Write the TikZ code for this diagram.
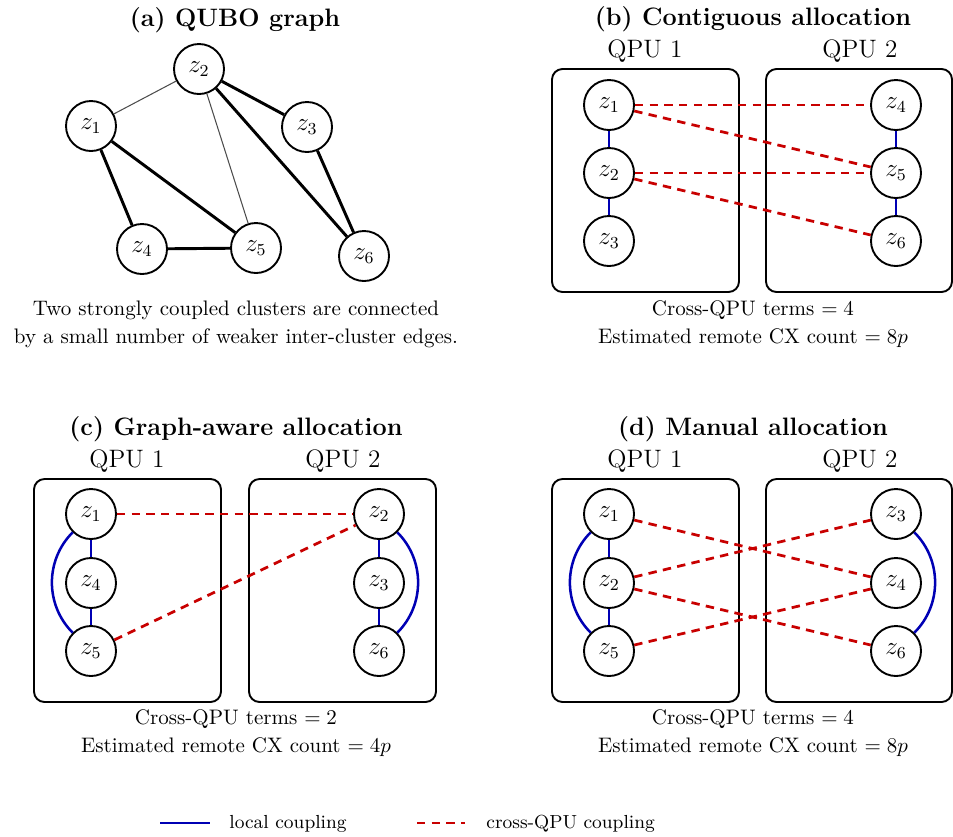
\documentclass[tikz,border=0pt]{standalone}
\usepackage{amsmath}
\usepackage{amssymb}
\usepackage{tikz}
\usetikzlibrary{positioning}
\usepackage{xcolor}
\definecolor{localblue}{RGB}{0,0,180}
\definecolor{crossred}{RGB}{200,0,0}

\begin{document}
\begin{tikzpicture} [x=0.476pt, y=-0.476pt,
	qubit/.style={circle, draw=black, line width=0.9pt, minimum size=23.8pt, inner sep=0pt, font=\large},
	strong/.style={black, line width=1.4pt},
	weak/.style={black!70, line width=0.5pt},
	local/.style={localblue, line width=1.2pt},
	cross/.style={crossred, line width=1.3pt, dash pattern=on 4pt off 3pt},
	qpubox/.style={draw=black, line width=0.9pt, rounded corners=5pt},
	paneltitle/.style={font=\large\bfseries, anchor=base},
	qpulabel/.style={font=\large, anchor=base},
	notetext/.style={anchor=base},
	legendtext/.style={anchor=base west, font=\small}]
	\useasboundingbox (0, 0) rectangle (953, 836);
	% (a)
	\node [paneltitle] (ta) at (235, 26) {(a) QUBO graph};
	\node [qubit] (a1) at (91, 126) {$z_1$};
	\node [qubit] (a2) at (199, 69) {$z_2$};
	\node [qubit] (a3) at (307, 127) {$z_3$};
	\node [qubit] (a4) at (142, 249) {$z_4$};
	\node [qubit] (a5) at (256, 248) {$z_5$};
	\node [qubit] (a6) at (364, 256) {$z_6$};
	\draw [weak] (a1)--(a2);
	\draw [weak] (a2)--(a5);
	\draw [strong] (a2)--(a3);
	\draw [strong] (a2)--(a6);
	\draw [strong] (a3)--(a6);
	\draw [strong] (a1)--(a4);
	\draw [strong] (a1)--(a5);
	\draw [strong] (a4)--(a5);
	\node [notetext] (na1) at (236, 315) {Two strongly coupled clusters are connected};
	\node [notetext] (na2) at (236, 343) {by a small number of weaker inter-cluster edges.};
	% (b)
	\node [paneltitle] (tb) at (753, 25) {(b) Contiguous allocation};
	\node [qpulabel] (qb1) at (645, 57) {QPU 1};
	\node [qpulabel] (qb2) at (860, 57) {QPU 2};
	\draw [qpubox] (552, 69) rectangle (739, 292);
	\draw [qpubox] (766, 69) rectangle (952, 292);
	\node [qubit] (b1) at (609, 105) {$z_1$};
	\node [qubit] (b2) at (609, 173) {$z_2$};
	\node [qubit] (b3) at (609, 241) {$z_3$};
	\node [qubit] (b4) at (896, 105) {$z_4$};
	\node [qubit] (b5) at (896, 173) {$z_5$};
	\node [qubit] (b6) at (896, 241) {$z_6$};
	\draw [local] (b1)--(b2);
	\draw [local] (b2)--(b3);
	\draw [local] (b4)--(b5);
	\draw [local] (b5)--(b6);
	\draw [cross] (b1)--(b4);
	\draw [cross] (b1)--(b5);
	\draw [cross] (b2)--(b5);
	\draw [cross] (b2)--(b6);
	\node [notetext] (nb1) at (753, 315) {Cross-QPU terms $= 4$};
	\node [notetext] (nb2) at (753, 343) {Estimated remote CX count $= 8p$};
	% (c)
	\node [paneltitle] (tc) at (236, 435) {(c) Graph-aware allocation};
	\node [qpulabel] (qc1) at (127, 467) {QPU 1};
	\node [qpulabel] (qc2) at (343, 467) {QPU 2};
	\draw [qpubox] (34, 479) rectangle (221, 702);
	\draw [qpubox] (249, 479) rectangle (436, 702);
	\node [qubit] (c1) at (91, 514) {$z_1$};
	\node [qubit] (c4) at (91, 583) {$z_4$};
	\node [qubit] (c5) at (91, 651) {$z_5$};
	\node [qubit] (c2) at (379, 514) {$z_2$};
	\node [qubit] (c3) at (379, 583) {$z_3$};
	\node [qubit] (c6) at (379, 651) {$z_6$};
	\draw [local] (c1)--(c4);
	\draw [local] (c4)--(c5);
	\draw [local] (c1) to[bend right=45] (c5);
	\draw [local] (c2)--(c3);
	\draw [local] (c3)--(c6);
	\draw [local] (c2) to[bend left=45] (c6);
	\draw [cross] (c1)--(c2);
	\draw [cross] (c5)--(c2);
	\node [notetext] (nc1) at (236, 724) {Cross-QPU terms $= 2$};
	\node [notetext] (nc2) at (236, 752) {Estimated remote CX count $= 4p$};
	% (d)
	\node [paneltitle] (td) at (753, 435) {(d) Manual allocation};
	\node [qpulabel] (qd1) at (645, 467) {QPU 1};
	\node [qpulabel] (qd2) at (860, 467) {QPU 2};
	\draw [qpubox] (552, 479) rectangle (739, 702);
	\draw [qpubox] (766, 479) rectangle (952, 702);
	\node [qubit] (d1) at (609, 514) {$z_1$};
	\node [qubit] (d2) at (609, 583) {$z_2$};
	\node [qubit] (d5) at (609, 651) {$z_5$};
	\node [qubit] (d3) at (896, 514) {$z_3$};
	\node [qubit] (d4) at (896, 583) {$z_4$};
	\node [qubit] (d6) at (896, 651) {$z_6$};
	\draw [local] (d1)--(d2);
	\draw [local] (d2)--(d5);
	\draw [local] (d1) to[bend right=45] (d5);
	\draw [local] (d3) to[bend left=45] (d6);
	\draw [cross] (d1)--(d4);
	\draw [cross] (d2)--(d3);
	\draw [cross] (d2)--(d6);
	\draw [cross] (d5)--(d4);
	\node [notetext] (nd1) at (753, 724) {Cross-QPU terms $= 4$};
	\node [notetext] (nd2) at (753, 752) {Estimated remote CX count $= 8p$};
	% legend
	\coordinate (la) at (160, 823);
	\coordinate (lb) at (210, 823);
	\draw [local] (la)--(lb);
	\node [legendtext] (ll) at (222, 828) {local coupling};
	\coordinate (ra) at (417, 823);
	\coordinate (rb) at (465, 823);
	\draw [cross] (ra)--(rb);
	\node [legendtext] (rl) at (479, 828) {cross-QPU coupling};
\end{tikzpicture}
\end{document}
